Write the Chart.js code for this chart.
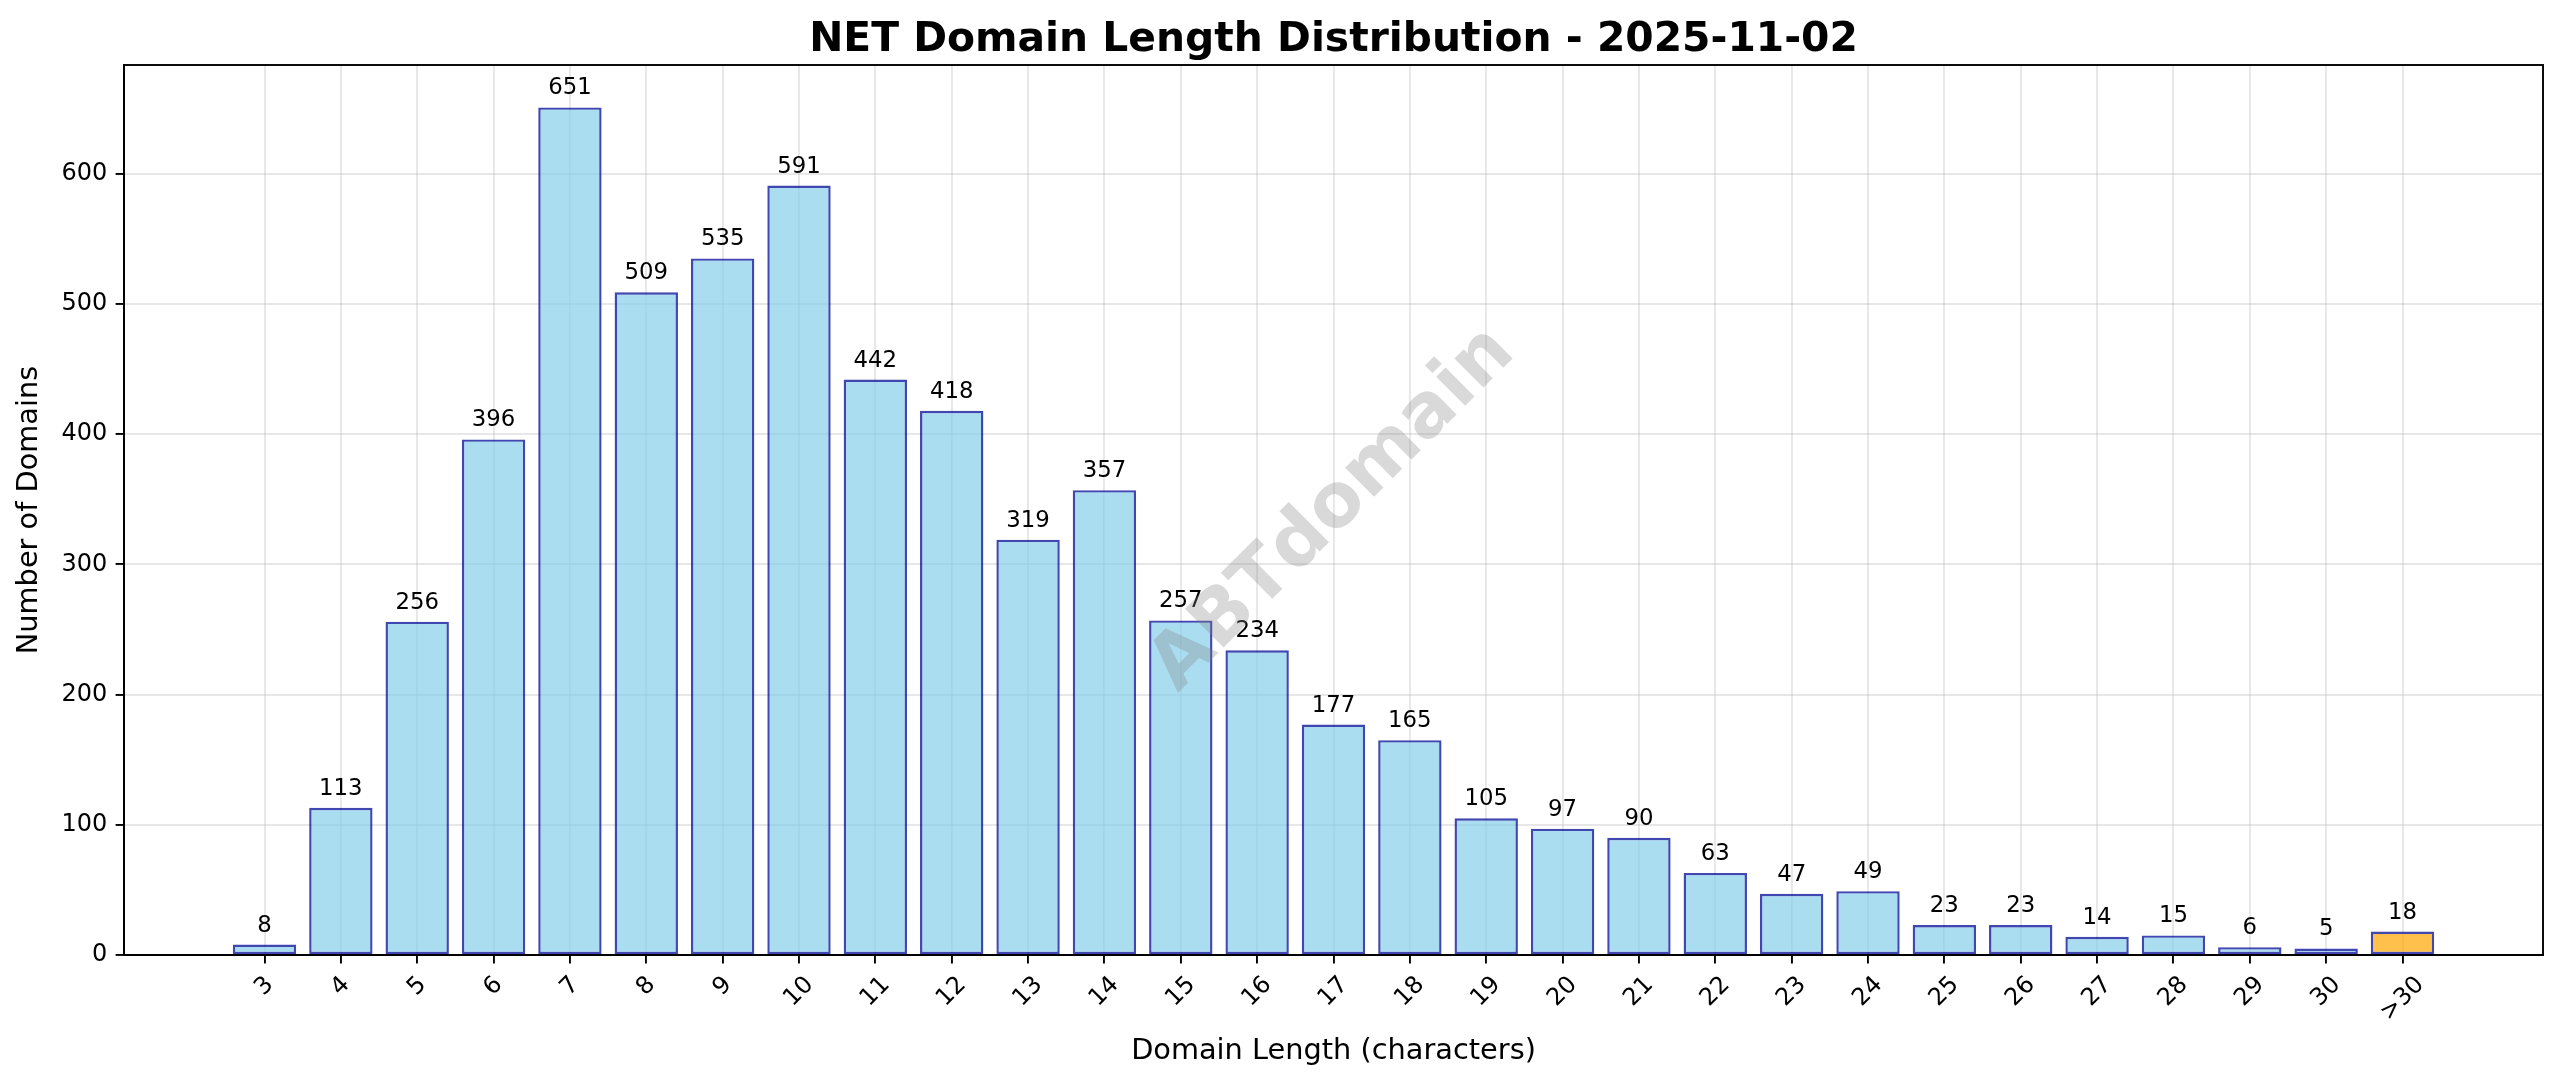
<!DOCTYPE html>
<html>
<head>
<meta charset="utf-8">
<script src="https://cdn.jsdelivr.net/npm/chart.js@4.4.1/dist/chart.umd.min.js"></script>
<style>
  html, body { margin: 0; padding: 0; background: #fff; }
  #wrap { width: 2560px; height: 1087px; }
</style>
</head>
<body>
<div id="wrap"><canvas id="lenChart" width="2560" height="1087"></canvas></div>
<script>
// Domain length buckets and counts
const lengthLabels = ['3', '4', '5', '6', '7', '8', '9', '10', '11', '12', '13', '14', '15', '16',
    '17', '18', '19', '20', '21', '22', '23', '24', '25', '26', '27', '28', '29', '30', '>30'];
const domainCounts = [8, 113, 256, 396, 651, 509, 535, 591, 442, 418, 319, 357, 257, 234,
    177, 165, 105, 97, 90, 63, 47, 49, 23, 23, 14, 15, 6, 5, 18];
const yTickValues = [0, 100, 200, 300, 400, 500, 600];

const chartTitle = 'NET Domain Length Distribution - 2025-11-02';
const xTitle = 'Domain Length (characters)';
const yTitle = 'Number of Domains';
const watermark = 'ABTdomain';

const FONT = "'DejaVu Sans', 'Liberation Sans', sans-serif";

// bars: skyblue, last bucket orange
const fillColors = lengthLabels.map(l => l === '>30' ? 'rgba(255,165,0,0.7)' : 'rgba(135,206,235,0.7)');
const edgeColor = 'rgba(0,10,150,0.75)';
const gridColor = 'rgba(176,176,176,0.3)';

// matplotlib-like margins: 5% around the bars
const yMax = Math.max(...domainCounts) * 1.05;
const xPad = (lengthLabels.length - 1 + 0.8) * 0.05 + 0.4;

// Title centred over the plot area (not the whole canvas)
const axesTitle = {
    id: 'axesTitle',
    afterDraw(chart) {
        const { ctx, chartArea } = chart;
        ctx.save();
        ctx.font = `bold 40.8px ${FONT}`;
        ctx.fillStyle = '#000';
        ctx.textAlign = 'center';
        ctx.textBaseline = 'alphabetic';
        ctx.fillText(chartTitle, (chartArea.left + chartArea.right) / 2, 50.5);
        ctx.restore();
    }
};

// Value labels above each bar
const barLabels = {
    id: 'barLabels',
    afterDatasetsDraw(chart) {
        const ctx = chart.ctx;
        const meta = chart.getDatasetMeta(0);
        ctx.save();
        ctx.font = `22.8px ${FONT}`;
        ctx.fillStyle = '#000';
        ctx.textAlign = 'center';
        ctx.textBaseline = 'alphabetic';
        meta.data.forEach((bar, i) => {
            ctx.fillText(String(domainCounts[i]), bar.x, bar.y - 13);
        });
        ctx.restore();
    }
};

// Rotated watermark across the middle of the plot
const watermarkText = {
    id: 'watermarkText',
    afterDatasetsDraw(chart) {
        const { ctx, chartArea } = chart;
        ctx.save();
        ctx.translate((chartArea.left + chartArea.right) / 2, (chartArea.top + chartArea.bottom) / 2);
        ctx.rotate(-Math.PI / 4);
        ctx.font = `bold 75px ${FONT}`;
        ctx.fillStyle = 'rgba(128,128,128,0.3)';
        ctx.textAlign = 'center';
        ctx.textBaseline = 'middle';
        ctx.fillText(watermark, 0, 0);
        ctx.restore();
    }
};

// Box around the axes (matplotlib spines)
const frame = {
    id: 'frame',
    afterDraw(chart) {
        const { ctx, chartArea } = chart;
        ctx.save();
        ctx.strokeStyle = '#000';
        ctx.lineWidth = 1.9;
        ctx.strokeRect(chartArea.left, chartArea.top, chartArea.right - chartArea.left, chartArea.bottom - chartArea.top);
        ctx.restore();
    }
};

// x tick labels rotated 45deg and centred under the tick
const xTickLabels = {
    id: 'xTickLabels',
    afterDraw(chart) {
        const { ctx } = chart;
        const xScale = chart.scales.x;
        const top = chart.chartArea.bottom + 8.4 + 8.4;
        const h = 26;
        ctx.save();
        ctx.font = `24px ${FONT}`;
        ctx.fillStyle = '#000';
        ctx.textAlign = 'center';
        ctx.textBaseline = 'middle';
        xScale.ticks.forEach(t => {
            const label = lengthLabels[t.value];
            const w = ctx.measureText(label).width;
            const side = (w + h) * Math.SQRT1_2;
            ctx.save();
            ctx.translate(xScale.getPixelForValue(t.value), top + side / 2);
            ctx.rotate(-Math.PI / 4);
            ctx.fillText(label, 0, 0);
            ctx.restore();
        });
        ctx.restore();
    }
};

new Chart(document.getElementById('lenChart'), {
    type: 'bar',
    data: {
        datasets: [{
            data: domainCounts.map((v, i) => ({ x: i, y: v })),
            backgroundColor: fillColors,
            borderColor: edgeColor,
            borderWidth: 2.4,
            borderSkipped: false,
            barPercentage: 0.83,
            categoryPercentage: 1.0
        }]
    },
    options: {
        responsive: false,
        devicePixelRatio: 1,
        animation: false,
        layout: { padding: { left: 0, right: 17, top: 65, bottom: 0 } },
        plugins: {
            legend: { display: false },
            tooltip: { enabled: false },
            title: { display: false }
        },
        scales: {
            x: {
                type: 'linear',
                offset: false,
                min: -xPad,
                max: lengthLabels.length - 1 + xPad,
                afterBuildTicks: s => { s.ticks = lengthLabels.map((l, i) => ({ value: i })); },
                afterFit: s => { s.height = 132; },
                ticks: { display: false },
                grid: { offset: false, color: gridColor, lineWidth: 1.9, drawTicks: true, tickLength: 8.4, tickColor: '#000', tickWidth: 1.9 },
                border: { display: true, color: '#000', width: 1.9 },
                title: {
                    display: true,
                    text: xTitle,
                    color: '#000',
                    font: { family: FONT, size: 28.8 },
                    padding: { top: 0, bottom: 18 }
                }
            },
            y: {
                min: 0,
                max: yMax,
                afterBuildTicks: s => { s.ticks = yTickValues.map(v => ({ value: v })); },
                afterFit: s => { s.width = 124; },
                ticks: {
                    color: '#000',
                    font: { family: FONT, size: 24 },
                    padding: 8.4
                },
                grid: { color: gridColor, lineWidth: 1.9, drawTicks: true, tickLength: 8.4, tickColor: '#000', tickWidth: 1.9 },
                border: { display: true, color: '#000', width: 1.9 },
                title: {
                    display: true,
                    text: yTitle,
                    color: '#000',
                    font: { family: FONT, size: 28.8 },
                    padding: { top: 12, bottom: 0 }
                }
            }
        }
    },
    plugins: [barLabels, watermarkText, frame, xTickLabels, axesTitle]
});
</script>
</body>
</html>
